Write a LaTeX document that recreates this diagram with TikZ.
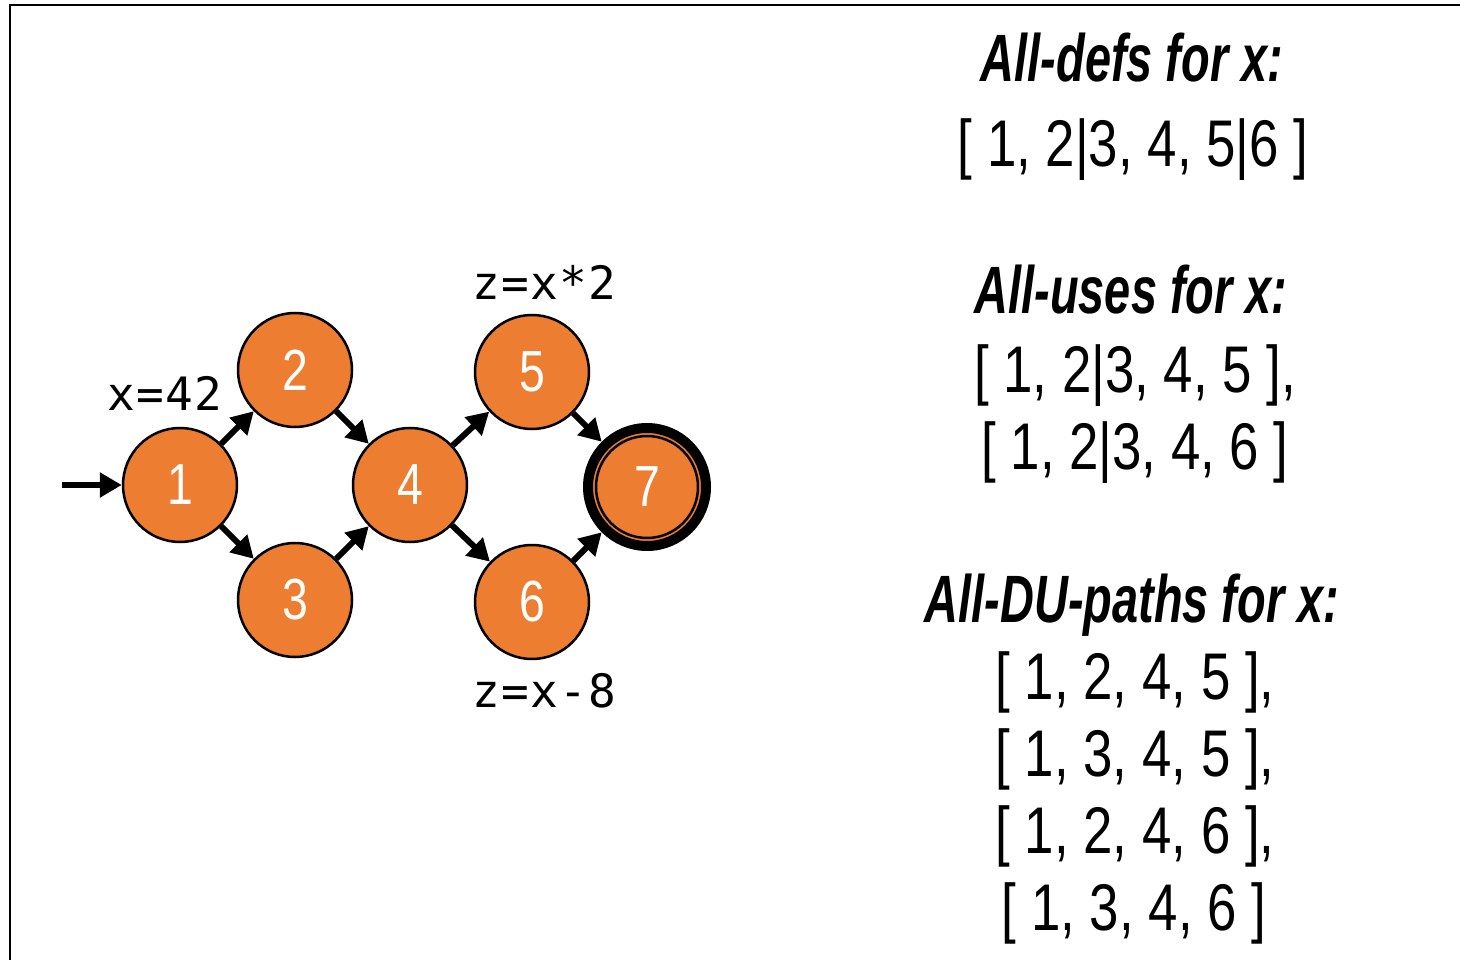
\documentclass[tikz,border=0pt]{standalone}
\usepackage{fontspec}
\setmainfont{Liberation Sans}[FakeStretch=0.8]
\newfontfamily\titlefont{Liberation Sans}[FakeStretch=0.7]
\newfontfamily\codefont{DejaVu Sans Mono}[LetterSpace=3]
\usetikzlibrary{arrows.meta}
\definecolor{nodeorange}{HTML}{ED7D31}
\begin{document}
\begin{tikzpicture}[x=1pt,y=-1pt,
  state/.style={circle, draw=black, line width=2.5pt, fill=nodeorange,
    minimum size=114pt, inner sep=0pt, text=white,
    font=\fontsize{58}{58}\selectfont},
  finalstate/.style={state, line width=10pt, minimum size=118pt},
  flow/.style={line width=6pt, -{Triangle[length=22pt,width=24pt]}},
  codelabel/.style={anchor=base, inner sep=0pt, font=\codefont\fontsize{46}{46}\selectfont},
  heading/.style={anchor=base, inner sep=0pt, font=\titlefont\bfseries\itshape\fontsize{67}{67}\selectfont},
  pathtext/.style={anchor=base, inner sep=0pt, font=\fontsize{66}{66}\selectfont}]
\useasboundingbox (0,0) rectangle (1460,960);
% frame
\coordinate (ftr) at (1465,5);
\coordinate (ftl) at (10,5);
\coordinate (fbl) at (10,965);
\draw[line width=2.5pt] (ftr) -- (ftl) -- (fbl);
% graph
\node[state] (n1) at (180,485) {1};
\node[state] (n2) at (295,370) {2};
\node[state] (n3) at (295,600) {3};
\node[state] (n4) at (410,485) {4};
\node[state] (n5) at (532,372) {5};
\node[state] (n6) at (532,602) {6};
\node[finalstate] (n7) at (647,487) {7};
\draw[line width=2.5pt] (n7.center) circle[radius=51];
\coordinate (start) at (62,485);
\draw[flow] (start) -- (n1);
\draw[flow] (n1) -- (n2);
\draw[flow] (n1) -- (n3);
\draw[flow] (n2) -- (n4);
\draw[flow] (n3) -- (n4);
\draw[flow] (n4) -- (n5);
\draw[flow] (n4) -- (n6);
\draw[flow] (n5) -- (n7);
\draw[flow] (n6) -- (n7);
% code labels
\node[codelabel] (l1) at (165,410) {x=42};
\node[codelabel] (l5) at (544,300) {z=x*2};
\node[codelabel] (l6) at (544,707) {z=x-8};
% right column
\node[heading] (h1) at (1132,82) {All-defs for x:};
\node[pathtext] (d1) at (1133,167) {[ 1, 2|3, 4, 5|6 ]};
\node[heading] (h2) at (1131,313) {All-uses for x:};
\node[pathtext] (u1) at (1135,392) {[ 1, 2|3, 4, 5 ],};
\node[pathtext] (u2) at (1135,469) {[ 1, 2|3, 4, 6 ]};
\node[heading] (h3) at (1132,622) {All-DU-paths for x:};
\node[pathtext] (p1) at (1135,699) {[ 1, 2, 4, 5 ],};
\node[pathtext] (p2) at (1135,776) {[ 1, 3, 4, 5 ],};
\node[pathtext] (p3) at (1135,853) {[ 1, 2, 4, 6 ],};
\node[pathtext] (p4) at (1134,930) {[ 1, 3, 4, 6 ]};
\end{tikzpicture}
\end{document}
